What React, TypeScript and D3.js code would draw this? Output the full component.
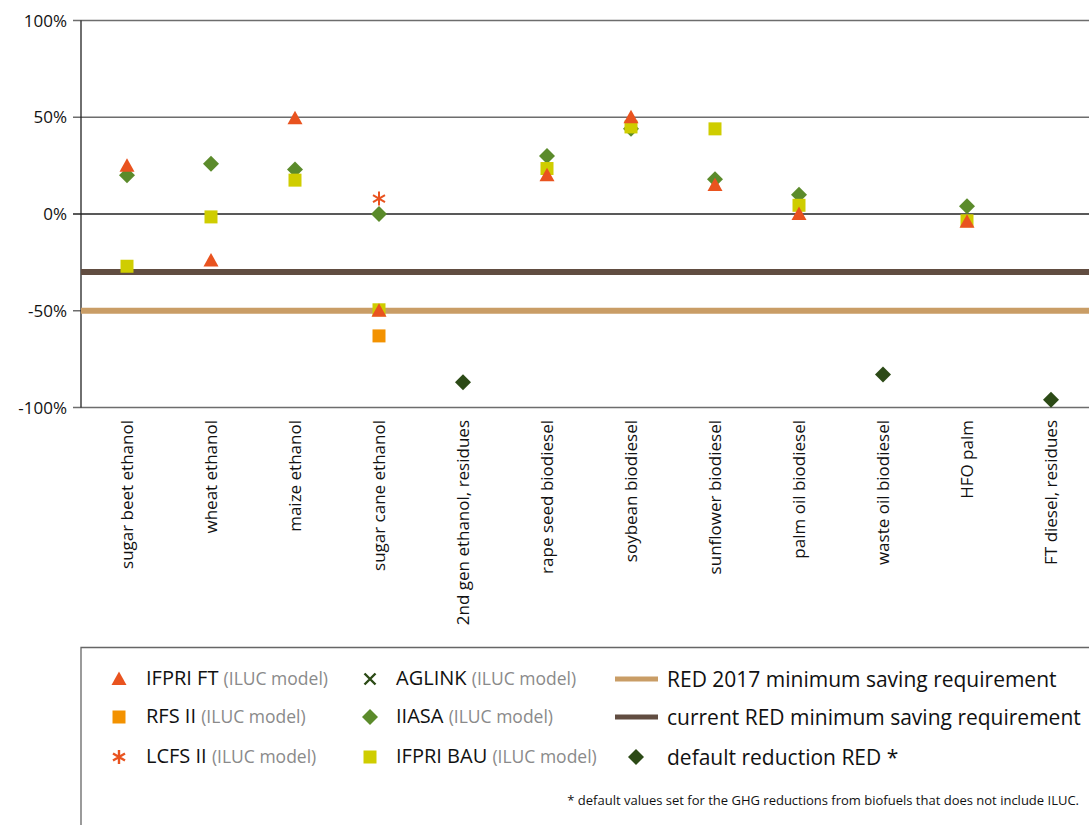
import React, { useEffect, useRef } from 'react'
import * as d3 from 'd3'

// categories on the x axis
const categories = [
  'sugar beet ethanol',
  'wheat ethanol',
  'maize ethanol',
  'sugar cane ethanol',
  '2nd gen ethanol, residues',
  'rape seed biodiesel',
  'soybean biodiesel',
  'sunflower biodiesel',
  'palm oil biodiesel',
  'waste oil biodiesel',
  'HFO palm',
  'FT diesel, residues',
]

// values in % (null = no value)
const iiasa = [20, 26, 23, 0, null, 30, 44, 18, 10, null, 4, null]
const ifpriBau = [-27, -1.5, 17.5, -49.5, null, 23.5, 45, 44, 4.5, null, -3.5, null]
const ifpriFt = [25, -24, 49.5, -50, null, 20, 50, 15, 0, null, -4, null]
const rfsII = [null, null, null, -63, null, null, null, null, null, null, null, null]
const lcfsII = [null, null, null, 8, null, null, null, null, null, null, null, null]
const defaultRed = [null, null, null, null, -87, null, null, null, null, -83, null, -96]

const yTicks = [100, 50, 0, -50, -100]
const redCurrent = -30
const red2017 = -50

const ORANGE_RED = '#e9531f'
const ORANGE = '#f39200'
const GREEN = '#5b8b2b'
const DARK_GREEN = '#2c4a16'
const YELLOW = '#cfcd00'
const TAN = '#c99d66'
const BROWN = '#614d41'
const FONT = '"Open Sans", sans-serif'

export default function App() {
  const ref = useRef<SVGSVGElement>(null)

  useEffect(() => {
    const svg = d3.select(ref.current!)
    svg.selectAll('*').remove()

    const W = 1089
    const x = d3.scalePoint<string>().domain(categories).range([127, 1051])
    const y = d3.scaleLinear().domain([-100, 100]).range([407.5, 20.5])
    const left = 81

    // gridlines
    svg.append('g')
      .selectAll('line')
      .data(yTicks)
      .join('line')
      .attr('x1', left - 8)
      .attr('x2', W)
      .attr('y1', d => y(d))
      .attr('y2', d => y(d))
      .attr('stroke', d => (d === 0 ? '#222' : '#6d6d6d'))
      .attr('stroke-width', 1.3)

    // y labels
    svg.append('g')
      .selectAll('text')
      .data(yTicks)
      .join('text')
      .attr('x', 67)
      .attr('y', d => y(d))
      .attr('dy', '0.36em')
      .attr('text-anchor', 'end')
      .style('font', `17px ${FONT}`)
      .attr('fill', '#111')
      .text(d => `${d}%`)

    // y axis line
    svg.append('line')
      .attr('x1', left).attr('x2', left)
      .attr('y1', y(100)).attr('y2', y(-100))
      .attr('stroke', '#222').attr('stroke-width', 1.3)

    // requirement lines
    svg.append('line')
      .attr('x1', left).attr('x2', W)
      .attr('y1', y(red2017)).attr('y2', y(red2017))
      .attr('stroke', TAN).attr('stroke-width', 6)
    svg.append('line')
      .attr('x1', left).attr('x2', W)
      .attr('y1', y(redCurrent)).attr('y2', y(redCurrent))
      .attr('stroke', BROWN).attr('stroke-width', 6)

    // x labels
    svg.append('g')
      .selectAll('text')
      .data(categories)
      .join('text')
      .attr('transform', d => `translate(${x(d)! + 6},${420}) rotate(-90)`)
      .attr('text-anchor', 'end')
      .style('font', `17px ${FONT}`)
      .attr('fill', '#111')
      .text(d => d)

    const diamond = 'M0,-8L8,0L0,8L-8,0Z'
    const triangle = 'M0,-7.5L7.5,6L-7.5,6Z'
    const square = 'M-6.5,-6.5H6.5V6.5H-6.5Z'
    const asterisk = 'M0,-7V7M-6,-3.5L6,3.5M-6,3.5L6,-3.5'

    const drawSeries = (vals: (number | null)[], path: string, fill: string, stroke?: string) => {
      const pts = categories
        .map((c, i) => ({ c, v: vals[i] }))
        .filter(p => p.v !== null)
      svg.append('g')
        .selectAll('path')
        .data(pts)
        .join('path')
        .attr('d', path)
        .attr('transform', p => `translate(${x(p.c)},${y(p.v as number)})`)
        .attr('fill', stroke ? 'none' : fill)
        .attr('stroke', stroke ?? 'none')
        .attr('stroke-width', stroke ? 2 : 0)
    }

    drawSeries(iiasa, diamond, GREEN)
    drawSeries(ifpriBau, square, YELLOW)
    drawSeries(ifpriFt, triangle, ORANGE_RED)
    drawSeries(rfsII, square, ORANGE)
    drawSeries(lcfsII, asterisk, '', ORANGE_RED)
    drawSeries(defaultRed, diamond, DARK_GREEN)

    // legend box
    const lg = svg.append('g')
    lg.append('path')
      .attr('d', `M${left},825V647.5H${W}`)
      .attr('fill', 'none')
      .attr('stroke', '#666')
      .attr('stroke-width', 1.3)

    const rowsY = [679, 717, 757]
    const markerItems = [
      { name: 'IFPRI FT', path: triangle, fill: ORANGE_RED, mx: 119, tx: 146, row: 0 },
      { name: 'RFS II', path: square, fill: ORANGE, mx: 119, tx: 146, row: 1 },
      { name: 'LCFS II', path: asterisk, stroke: ORANGE_RED, mx: 119, tx: 146, row: 2 },
      { name: 'AGLINK', path: 'M-5.5,-5.5L5.5,5.5M-5.5,5.5L5.5,-5.5', stroke: DARK_GREEN, mx: 370, tx: 396, row: 0 },
      { name: 'IIASA', path: diamond, fill: GREEN, mx: 370, tx: 396, row: 1 },
      { name: 'IFPRI BAU', path: square, fill: YELLOW, mx: 370, tx: 396, row: 2 },
    ]
    markerItems.forEach(it => {
      lg.append('path')
        .attr('d', it.path)
        .attr('transform', `translate(${it.mx},${rowsY[it.row]})`)
        .attr('fill', it.fill ?? 'none')
        .attr('stroke', it.stroke ?? 'none')
        .attr('stroke-width', it.stroke ? 2.4 : 0)
      const t = lg.append('text')
        .attr('x', it.tx)
        .attr('y', rowsY[it.row])
        .attr('dy', '0.36em')
        .style('font-family', FONT)
      t.append('tspan').style('font-size', '20px').attr('fill', '#111').text(it.name + ' ')
      t.append('tspan').style('font-size', '17.5px').attr('fill', '#8a8a8a').text('(ILUC model)')
    })

    const lineItems = [
      { name: 'RED 2017 minimum saving requirement', color: TAN, row: 0 },
      { name: 'current RED minimum saving requirement', color: BROWN, row: 1 },
    ]
    lineItems.forEach(it => {
      lg.append('line')
        .attr('x1', 615).attr('x2', 658)
        .attr('y1', rowsY[it.row]).attr('y2', rowsY[it.row])
        .attr('stroke', it.color).attr('stroke-width', 5)
      lg.append('text')
        .attr('x', 667).attr('y', rowsY[it.row]).attr('dy', '0.36em')
        .style('font', `21px ${FONT}`).attr('fill', '#111')
        .text(it.name)
    })
    lg.append('path')
      .attr('d', diamond)
      .attr('transform', `translate(636,${rowsY[2]})`)
      .attr('fill', DARK_GREEN)
    lg.append('text')
      .attr('x', 667).attr('y', rowsY[2]).attr('dy', '0.36em')
      .style('font', `21px ${FONT}`).attr('fill', '#111')
      .text('default reduction RED *')

    lg.append('text')
      .attr('x', 1079).attr('y', 800).attr('dy', '0.36em')
      .attr('text-anchor', 'end')
      .style('font', `13px ${FONT}`).attr('fill', '#111')
      .text('* default values set for the GHG reductions from biofuels that does not include ILUC.')
  }, [])

  return (
    <svg
      ref={ref}
      width={1089}
      height={825}
      style={{ position: 'absolute', left: 0, top: 0, background: '#fff' }}
    />
  )
}
